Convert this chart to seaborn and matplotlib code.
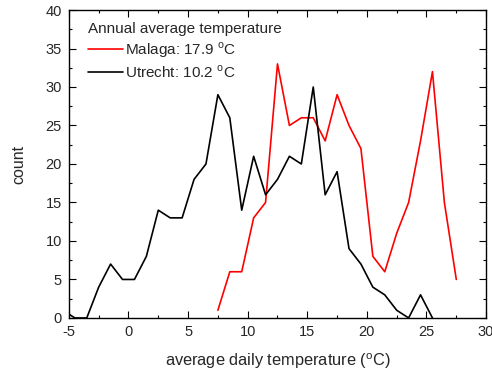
import pandas as pd
import matplotlib.pyplot as plt
import seaborn as sns
from matplotlib.ticker import MultipleLocator

# temperature bins (bin centres, degrees C) and day counts
utrecht_temp = [-5.5, -4.5, -3.5, -2.5, -1.5, -0.5, 0.5, 1.5, 2.5, 3.5, 4.5, 5.5, 6.5,
                7.5, 8.5, 9.5, 10.5, 11.5, 12.5, 13.5, 14.5, 15.5, 16.5, 17.5, 18.5,
                19.5, 20.5, 21.5, 22.5, 23.5, 24.5, 25.5]
utrecht_count = [1, 0, 0, 4, 7, 5, 5, 8, 14, 13, 13, 18, 20,
                 29, 26, 14, 21, 16, 18, 21, 20, 30, 16, 19, 9,
                 7, 4, 3, 1, 0, 3, 0]

malaga_temp = [7.5, 8.5, 9.5, 10.5, 11.5, 12.5, 13.5, 14.5, 15.5, 16.5, 17.5,
               18.5, 19.5, 20.5, 21.5, 22.5, 23.5, 24.5, 25.5, 26.5, 27.5]
malaga_count = [1, 6, 6, 13, 15, 33, 25, 26, 26, 23, 29,
                25, 22, 8, 6, 11, 15, 23, 32, 15, 5]

malaga_label = "Malaga: 17.9 $^{\\mathrm{o}}$C"
utrecht_label = "Utrecht: 10.2 $^{\\mathrm{o}}$C"

df = pd.concat([
    pd.DataFrame({"temp": malaga_temp, "count": malaga_count, "city": malaga_label}),
    pd.DataFrame({"temp": utrecht_temp, "count": utrecht_count, "city": utrecht_label}),
])

sns.set_style("ticks")
plt.rcParams["font.family"] = ["Liberation Sans", "DejaVu Sans"]
plt.rcParams["mathtext.fontset"] = "custom"
plt.rcParams["mathtext.rm"] = "Liberation Sans"
plt.rcParams["axes.unicode_minus"] = False

fig = plt.figure(figsize=(4.92, 3.71), dpi=100)
ax = fig.add_axes([0.140, 0.143, 0.848, 0.830])

sns.lineplot(data=df, x="temp", y="count", hue="city",
             palette={malaga_label: "#ff0000", utrecht_label: "#000000"},
             linewidth=1.2, sort=False, ax=ax)

ax.set_xlim(-5, 30)
ax.set_ylim(0, 40)
ax.xaxis.set_major_locator(MultipleLocator(5))
ax.xaxis.set_minor_locator(MultipleLocator(2.5))
ax.yaxis.set_major_locator(MultipleLocator(5))
ax.yaxis.set_minor_locator(MultipleLocator(2.5))
ax.tick_params(which="both", direction="in", top=True, right=True,
               labelsize=10.5, width=0.8, color="black", pad=5)
ax.tick_params(which="major", length=4.8)
ax.tick_params(which="minor", length=2.5)
for s in ax.spines.values():
    s.set_linewidth(1.0)
    s.set_color("black")

ax.set_xlabel("average daily temperature ($^{\\mathrm{o}}$C)", fontsize=11.8, labelpad=9)
ax.set_ylabel("count", fontsize=11.5, labelpad=14)

leg = ax.legend(title="Annual average temperature", loc="upper left",
                bbox_to_anchor=(0.02, 0.995),
                frameon=False, fontsize=11, title_fontsize=11,
                handlelength=2.3, handletextpad=0.1, labelspacing=0.25,
                borderaxespad=0.3, alignment="left")

fig.savefig("out.png", dpi=100)
